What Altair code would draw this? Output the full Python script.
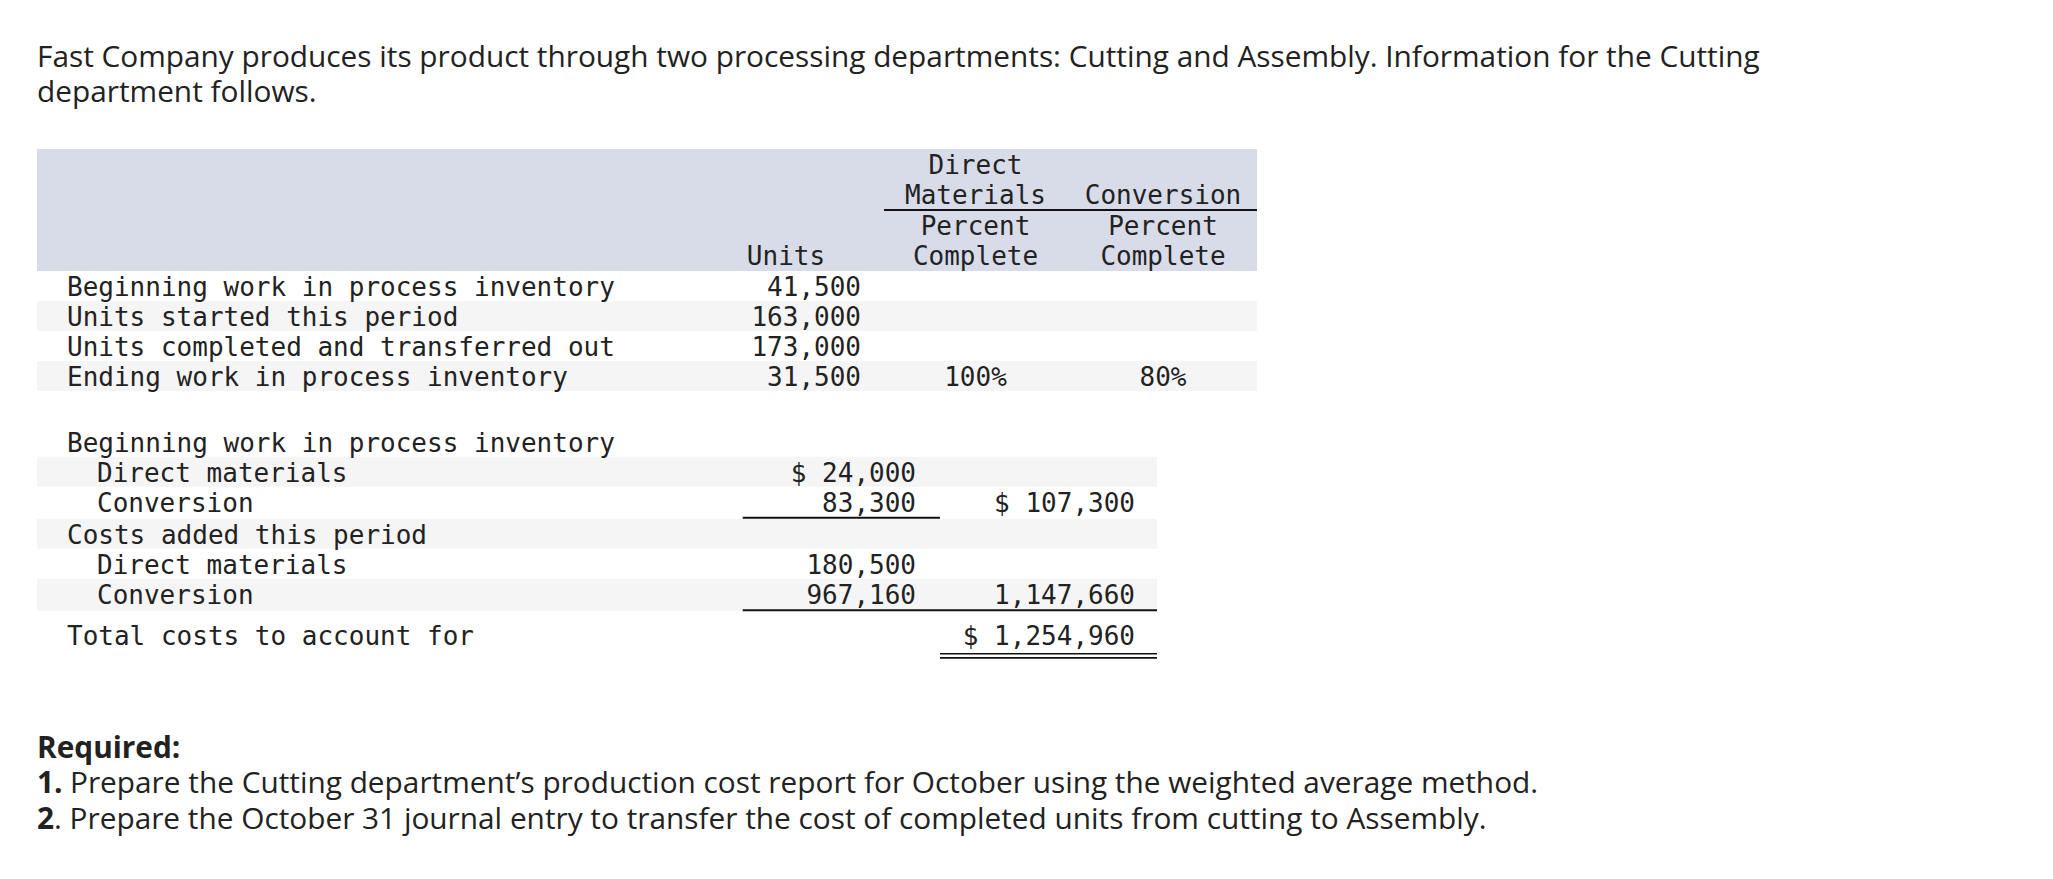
import altair as alt
import pandas as pd

# ---------------- data ----------------
title_lines = [
    "Fast Company produces its product through two processing departments: Cutting and Assembly. Information for the Cutting",
    "department follows.",
]
hdr_units = ["", "", "", "Units"]
hdr_dm = ["Direct", "Materials", "Percent", "Complete"]
hdr_conv = ["", "Conversion", "Percent", "Complete"]

unit_labels = [
    "Beginning work in process inventory",
    "Units started this period",
    "Units completed and transferred out",
    "Ending work in process inventory",
]
unit_values = ["41,500", "163,000", "173,000", "31,500"]
dm_pct = ["", "", "", "100%"]
conv_pct = ["", "", "", "80%"]

cost_labels = [
    "Beginning work in process inventory",
    "Direct materials",
    "Conversion",
    "Costs added this period",
    "Direct materials",
    "Conversion",
    "Total costs to account for",
]
cost_indent = [0, 1, 1, 0, 1, 1, 0]
cost_col1 = ["", "$ 24,000", "83,300", "", "180,500", "967,160", ""]
cost_col2 = ["", "", "$ 107,300", "", "", "1,147,660", "$ 1,254,960"]

req_title = "Required:"
req_bold = ["1.", "2"]
req_rest = [
    "Prepare the Cutting department\u2019s production cost report for October using the weighted average method.",
    ". Prepare the October 31 journal entry to transfer the cost of  completed units from cutting to Assembly.",
]

# ---------------- layout (page pixel coordinates) ----------------
W, H = 2037, 850
MONO = "DejaVu Sans Mono"
SANS = "Open Sans"
SANS_SIZE = 29.8
INK = "#222222"

xs = alt.Scale(domain=[8, 8 + W], range=[0, W])
ys = alt.Scale(domain=[8, 8 + H], range=[0, H])

LEFT, RIGHT_UP, RIGHT_LOW = 37, 1257, 1157
LABEL_X, INDENT = 67, 30
UNITS_R, UNITS_HDR_C, DM_C, CONV_C = 861, 786, 975.5, 1163
COL1_R, COL2_R = 916, 1135

hdr_top, hdr_row = 149, 30.5
up_top, up_row = 271, 30
low_heights = [30, 30, 32, 30, 30, 32, 44]
low_top = 426.7

rects, rules, t_left, t_right, t_center, s_reg, s_bold = [], [], [], [], [], [], []

# header band
rects.append(dict(x=LEFT, x2=RIGHT_UP, y=hdr_top, y2=hdr_top + 4 * hdr_row, fill="#d8dce8"))
for i in range(4):
    base = hdr_top + i * hdr_row + 24.5
    if hdr_units[i]:
        t_center.append(dict(x=UNITS_HDR_C, y=base, t=hdr_units[i]))
    if hdr_dm[i]:
        t_center.append(dict(x=DM_C, y=base, t=hdr_dm[i]))
    if hdr_conv[i]:
        t_center.append(dict(x=CONV_C, y=base, t=hdr_conv[i]))
rules.append(dict(x=884, x2=RIGHT_UP, y=hdr_top + 2 * hdr_row, sw=2))

# upper table
for i, lab in enumerate(unit_labels):
    top = up_top + i * up_row
    if i % 2 == 1:
        rects.append(dict(x=LEFT, x2=RIGHT_UP, y=top, y2=top + up_row, fill="#f5f5f5"))
    base = top + 24.5
    t_left.append(dict(x=LABEL_X, y=base, t=lab))
    t_right.append(dict(x=UNITS_R, y=base, t=unit_values[i]))
    if dm_pct[i]:
        t_center.append(dict(x=DM_C, y=base, t=dm_pct[i]))
    if conv_pct[i]:
        t_center.append(dict(x=CONV_C, y=base, t=conv_pct[i]))

# lower table
top = low_top
for i, lab in enumerate(cost_labels):
    h = low_heights[i]
    if i % 2 == 1:
        rects.append(dict(x=LEFT, x2=RIGHT_LOW, y=top, y2=top + h, fill="#f5f5f5"))
    base = top + (34.5 if i == len(cost_labels) - 1 else 25)
    t_left.append(dict(x=LABEL_X + INDENT * cost_indent[i], y=base, t=lab))
    if cost_col1[i]:
        t_right.append(dict(x=COL1_R, y=base, t=cost_col1[i]))
    if cost_col2[i]:
        t_right.append(dict(x=COL2_R, y=base, t=cost_col2[i]))
    if i == 2:
        rules.append(dict(x=742.7, x2=940, y=top + h - 1, sw=2))
    if i == 5:
        rules.append(dict(x=742.7, x2=RIGHT_LOW, y=top + h - 0.5, sw=2))
    if i == 6:
        rules.append(dict(x=940, x2=RIGHT_LOW, y=653.7, sw=1.6))
        rules.append(dict(x=940, x2=RIGHT_LOW, y=657.9, sw=1.6))
    top += h

# prose
s_reg.append(dict(x=37, y=67, t=title_lines[0]))
s_reg.append(dict(x=37, y=102, t=title_lines[1]))
s_bold.append(dict(x=37, y=758, t=req_title))
s_bold.append(dict(x=37, y=793, t=req_bold[0]))
s_reg.append(dict(x=70, y=793, t=req_rest[0]))
s_bold.append(dict(x=37, y=829, t=req_bold[1]))
s_reg.append(dict(x=54, y=829, t=req_rest[1]))

X = lambda f="x": alt.X(f"{f}:Q", scale=xs, axis=None)
Y = lambda f="y": alt.Y(f"{f}:Q", scale=ys, axis=None)

rect_layer = alt.Chart(pd.DataFrame(rects)).mark_rect().encode(
    x=X(), x2="x2:Q", y=Y(), y2="y2:Q", fill=alt.Fill("fill:N", scale=None)
)
rule_layer = alt.Chart(pd.DataFrame(rules)).mark_rule(color="#111111").encode(
    x=X(), x2="x2:Q", y=Y(), strokeWidth=alt.StrokeWidth("sw:Q", scale=None)
)


def text_layer(rows, align, font, size, weight="normal"):
    return alt.Chart(pd.DataFrame(rows)).mark_text(
        align=align, baseline="alphabetic", font=font, fontSize=size,
        fontWeight=weight, color=INK
    ).encode(x=X(), y=Y(), text="t:N")


chart = alt.layer(
    rect_layer,
    rule_layer,
    text_layer(t_left, "left", MONO, 26),
    text_layer(t_right, "right", MONO, 26),
    text_layer(t_center, "center", MONO, 26),
    text_layer(s_reg, "left", SANS, SANS_SIZE),
    text_layer(s_bold, "left", SANS, SANS_SIZE, "bold"),
).properties(width=W, height=H, padding=0).configure_view(stroke=None)

chart.save("out.html", embed_options={"renderer": "svg", "actions": False})
